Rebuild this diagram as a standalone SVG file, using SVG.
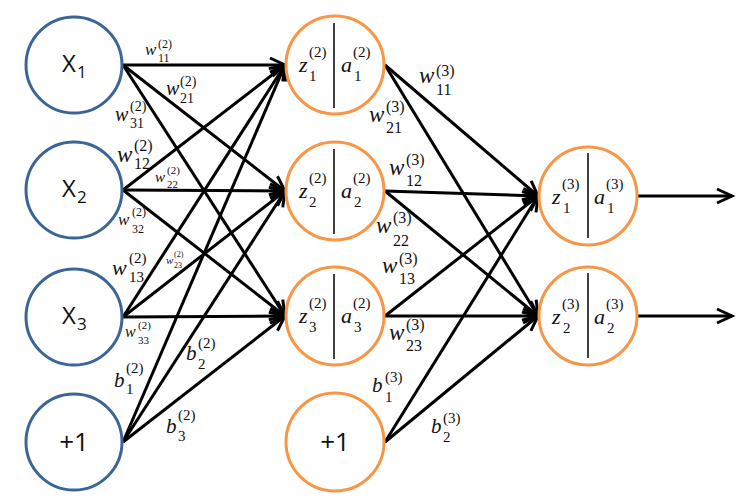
<svg xmlns="http://www.w3.org/2000/svg" width="748" height="501" viewBox="0 0 748 501">
<style>
.in{fill:#fff;stroke:#3C6597;stroke-width:3}
.hn{fill:#fff;stroke:#F79646;stroke-width:3}
.dv{stroke:#404040;stroke-width:2}
.e{stroke:#000;stroke-width:3;fill:none;marker-end:url(#arr)}
.sans{font-family:"Open Sans","Liberation Sans",sans-serif;fill:#111}
.m{font-family:"Liberation Serif","DejaVu Serif",serif;font-style:italic;fill:#111}
.d{font-family:"Liberation Serif","DejaVu Serif",serif;fill:#111}
</style>
<defs>
<marker id="arr" markerUnits="userSpaceOnUse" viewBox="-18 -10 22 20" markerWidth="22" markerHeight="20" refX="0" refY="0" orient="auto">
<path d="M-15,-7 L0,0 L-15,7" fill="none" stroke="#000" stroke-width="3" stroke-linejoin="miter"/>
</marker>
</defs>
<rect width="748" height="501" fill="#fff"/>

<g id="connectors">
<line class="e" x1="123" y1="65" x2="285" y2="65"/>
<line class="e" x1="123" y1="65" x2="285" y2="191"/>
<line class="e" x1="123" y1="65" x2="285" y2="316"/>
<line class="e" x1="123" y1="190" x2="285" y2="65"/>
<line class="e" x1="123" y1="190" x2="285" y2="191"/>
<line class="e" x1="123" y1="190" x2="285" y2="316"/>
<line class="e" x1="123" y1="317" x2="285" y2="65"/>
<line class="e" x1="123" y1="317" x2="285" y2="191"/>
<line class="e" x1="123" y1="317" x2="285" y2="316"/>
<line class="e" x1="123" y1="442" x2="285" y2="65"/>
<line class="e" x1="123" y1="442" x2="285" y2="191"/>
<line class="e" x1="123" y1="442" x2="285" y2="316"/>
<line class="e" x1="385" y1="65" x2="538" y2="196"/>
<line class="e" x1="385" y1="65" x2="538" y2="316"/>
<line class="e" x1="385" y1="191" x2="538" y2="196"/>
<line class="e" x1="385" y1="191" x2="538" y2="316"/>
<line class="e" x1="385" y1="316" x2="538" y2="196"/>
<line class="e" x1="385" y1="316" x2="538" y2="316"/>
<line class="e" x1="385" y1="442" x2="538" y2="196"/>
<line class="e" x1="385" y1="442" x2="538" y2="316"/>
<line class="e" x1="637" y1="196" x2="732" y2="196"/>
<line class="e" x1="637" y1="316" x2="732" y2="316"/>
</g>

<g id="weights">
<g id="w11_2"><text class="m" x="145" y="55" font-size="17">w</text><text class="d" x="158" y="48" font-size="12">(2)</text><text class="d" x="158" y="62" font-size="12">11</text></g>
<g id="w21_2"><text class="m" x="166" y="95" font-size="20">w</text><text class="d" x="180" y="86" font-size="14">(2)</text><text class="d" x="180" y="103" font-size="14">21</text></g>
<g id="w31_2"><text class="m" x="115" y="121" font-size="20">w</text><text class="d" x="130" y="111" font-size="14">(2)</text><text class="d" x="130" y="128" font-size="14">31</text></g>
<g id="w12_2"><text class="m" x="117" y="162" font-size="23">w</text><text class="d" x="134" y="151" font-size="16">(2)</text><text class="d" x="134" y="169" font-size="16">12</text></g>
<g id="w22_2"><text class="m" x="155" y="182" font-size="15">w</text><text class="d" x="167" y="174" font-size="11">(2)</text><text class="d" x="167" y="188" font-size="11">22</text></g>
<g id="w32_2"><text class="m" x="118" y="225" font-size="17">w</text><text class="d" x="132" y="216" font-size="12">(2)</text><text class="d" x="132" y="233" font-size="12">32</text></g>
<g id="w13_2"><text class="m" x="112" y="275" font-size="22">w</text><text class="d" x="129" y="263" font-size="15">(2)</text><text class="d" x="129" y="282" font-size="15">13</text></g>
<g id="w23_2"><text class="m" x="166" y="264" font-size="11">w</text><text class="d" x="174" y="257" font-size="8">(2)</text><text class="d" x="174" y="268" font-size="8">23</text></g>
<g id="w33_2"><text class="m" x="125" y="337" font-size="16">w</text><text class="d" x="138" y="329" font-size="11">(2)</text><text class="d" x="138" y="344" font-size="11">33</text></g>
<g id="b1_2"><text class="m" x="114" y="387" font-size="21">b</text><text class="d" x="126" y="373" font-size="15">(2)</text><text class="d" x="126" y="394" font-size="15">1</text></g>
<g id="b2_2"><text class="m" x="186" y="360" font-size="21">b</text><text class="d" x="198" y="348" font-size="15">(2)</text><text class="d" x="198" y="369" font-size="15">2</text></g>
<g id="b3_2"><text class="m" x="166" y="433" font-size="21">b</text><text class="d" x="178" y="420" font-size="15">(2)</text><text class="d" x="178" y="441" font-size="15">3</text></g>
<g id="w11_3"><text class="m" x="419" y="83" font-size="23">w</text><text class="d" x="436" y="76" font-size="16">(3)</text><text class="d" x="436" y="95" font-size="16">11</text></g>
<g id="w21_3"><text class="m" x="369" y="122" font-size="23">w</text><text class="d" x="386" y="112" font-size="16">(3)</text><text class="d" x="386" y="133" font-size="16">21</text></g>
<g id="w12_3"><text class="m" x="389" y="175" font-size="23">w</text><text class="d" x="406" y="165" font-size="16">(3)</text><text class="d" x="406" y="186" font-size="16">12</text></g>
<g id="w22_3"><text class="m" x="376" y="233" font-size="23">w</text><text class="d" x="393" y="223" font-size="16">(3)</text><text class="d" x="393" y="246" font-size="16">22</text></g>
<g id="w13_3"><text class="m" x="382" y="273" font-size="23">w</text><text class="d" x="399" y="264" font-size="16">(3)</text><text class="d" x="399" y="284" font-size="16">13</text></g>
<g id="w23_3"><text class="m" x="389" y="340" font-size="23">w</text><text class="d" x="406" y="330" font-size="16">(3)</text><text class="d" x="406" y="351" font-size="16">23</text></g>
<g id="b1_3"><text class="m" x="372" y="392" font-size="21">b</text><text class="d" x="385" y="382" font-size="15">(3)</text><text class="d" x="385" y="402" font-size="15">1</text></g>
<g id="b2_3"><text class="m" x="431" y="433" font-size="21">b</text><text class="d" x="443" y="423" font-size="15">(3)</text><text class="d" x="443" y="442" font-size="15">2</text></g>
</g>

<g id="x1"><circle class="in" cx="74" cy="65" r="48"/><text class="sans" x="62" y="72" font-size="24">X</text><text class="sans" x="77" y="78" font-size="17">1</text></g>
<g id="x2"><circle class="in" cx="74" cy="190" r="48"/><text class="sans" x="62" y="197" font-size="24">X</text><text class="sans" x="77" y="203" font-size="17">2</text></g>
<g id="x3"><circle class="in" cx="74" cy="317" r="48"/><text class="sans" x="62" y="324" font-size="24">X</text><text class="sans" x="77" y="330" font-size="17">3</text></g>
<g id="bias1"><circle class="in" cx="74" cy="442" r="48"/><text class="sans" x="74" y="451" font-size="26" text-anchor="middle">+1</text></g>

<g id="h1"><circle class="hn" cx="335" cy="65" r="49"/><line class="dv" x1="334" y1="23" x2="334" y2="108"/>
<text class="m" x="299" y="72" font-size="22">z</text><text class="d" x="309" y="57" font-size="15">(2)</text><text class="d" x="309" y="81" font-size="15">1</text>
<text class="m" x="341" y="72" font-size="22">a</text><text class="d" x="353" y="57" font-size="15">(2)</text><text class="d" x="354" y="81" font-size="15">1</text></g>
<g id="h2"><circle class="hn" cx="335" cy="191" r="49"/><line class="dv" x1="334" y1="149" x2="334" y2="234"/>
<text class="m" x="299" y="198" font-size="22">z</text><text class="d" x="309" y="183" font-size="15">(2)</text><text class="d" x="309" y="207" font-size="15">2</text>
<text class="m" x="341" y="198" font-size="22">a</text><text class="d" x="353" y="183" font-size="15">(2)</text><text class="d" x="354" y="207" font-size="15">2</text></g>
<g id="h3"><circle class="hn" cx="335" cy="316" r="49"/><line class="dv" x1="334" y1="274" x2="334" y2="359"/>
<text class="m" x="299" y="323" font-size="22">z</text><text class="d" x="309" y="308" font-size="15">(2)</text><text class="d" x="309" y="332" font-size="15">3</text>
<text class="m" x="341" y="323" font-size="22">a</text><text class="d" x="353" y="308" font-size="15">(2)</text><text class="d" x="354" y="332" font-size="15">3</text></g>
<g id="bias2"><circle class="hn" cx="335" cy="442" r="49"/><text class="sans" x="335" y="451" font-size="26" text-anchor="middle">+1</text></g>

<g id="o1"><circle class="hn" cx="588" cy="196" r="49"/><line class="dv" x1="588" y1="153" x2="588" y2="238"/>
<text class="m" x="552" y="204" font-size="22">z</text><text class="d" x="562" y="189" font-size="15">(3)</text><text class="d" x="563" y="213" font-size="15">1</text>
<text class="m" x="594" y="204" font-size="22">a</text><text class="d" x="606" y="189" font-size="15">(3)</text><text class="d" x="607" y="213" font-size="15">1</text></g>
<g id="o2"><circle class="hn" cx="588" cy="316" r="49"/><line class="dv" x1="588" y1="273" x2="588" y2="358"/>
<text class="m" x="552" y="324" font-size="22">z</text><text class="d" x="562" y="309" font-size="15">(3)</text><text class="d" x="563" y="333" font-size="15">2</text>
<text class="m" x="594" y="324" font-size="22">a</text><text class="d" x="606" y="309" font-size="15">(3)</text><text class="d" x="607" y="333" font-size="15">2</text></g>
</svg>
